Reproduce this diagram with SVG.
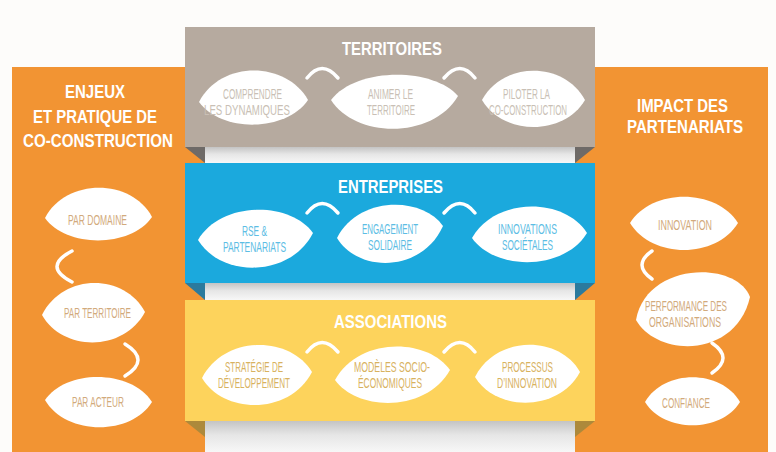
<svg xmlns="http://www.w3.org/2000/svg" width="776" height="452" viewBox="0 0 776 452">
<defs>
<linearGradient id="sh" x1="0" y1="0" x2="0" y2="1">
<stop offset="0" stop-color="#c4c4c4"/>
<stop offset="0.45" stop-color="#e6e6e6"/>
<stop offset="1" stop-color="#f7f7f7"/>
</linearGradient>
<style>
.title{font-family:"Liberation Sans",Arial,sans-serif;font-weight:bold;fill:#ffffff;text-anchor:middle}
.t1{font-size:18px}
.t2{font-size:19px}
.lt{font-family:"Liberation Sans",Arial,sans-serif;font-size:15.5px;text-anchor:middle}
.leaf{fill:#ffffff}
.gr{fill:#c9bfb5}
.bl{fill:#5cbde4}
.ye{fill:#d8b25f}
.or{fill:#d2aa7c}
.arc{fill:none;stroke:#ffffff;stroke-width:3.5;stroke-linecap:round}
</style>
</defs>
<rect x="0" y="0" width="776" height="452" fill="#fdfcfa"/>

<!-- side panels -->
<g id="panel-left">
<rect x="12" y="67" width="193" height="385" fill="#f29433"/>
<text class="title t2" x="95" y="98" textLength="60" lengthAdjust="spacingAndGlyphs">ENJEUX</text>
<text class="title t2" x="95" y="123" textLength="124" lengthAdjust="spacingAndGlyphs">ET PRATIQUE DE</text>
<text class="title t2" x="98" y="147" textLength="150" lengthAdjust="spacingAndGlyphs">CO-CONSTRUCTION</text>
</g>
<g id="panel-right">
<rect x="575" y="67" width="193" height="385" fill="#f29433"/>
<text class="title t2" x="682.5" y="112" textLength="91" lengthAdjust="spacingAndGlyphs">IMPACT DES</text>
<text class="title t2" x="685" y="133" textLength="116" lengthAdjust="spacingAndGlyphs">PARTENARIATS</text>
</g>

<!-- shadows between bands -->
<rect x="205" y="147" width="370" height="16" fill="url(#sh)"/>
<rect x="205" y="283" width="370" height="17" fill="url(#sh)"/>
<rect x="205" y="421" width="370" height="31" fill="url(#sh)"/>

<!-- folds -->
<polygon points="185,147 205,147 205,163" fill="#6e6a67"/>
<polygon points="575,147 595,147 575,163" fill="#6e6a67"/>
<polygon points="185,283 205,283 205,300" fill="#2b7a9d"/>
<polygon points="575,283 595,283 575,300" fill="#2b7a9d"/>
<polygon points="185,421 205,421 205,437" fill="#ad893b"/>
<polygon points="575,421 595,421 575,437" fill="#ad893b"/>

<!-- bands -->
<g id="band-territoires">
<rect x="185" y="27" width="410" height="120" fill="#b6aa9f"/>
<text class="title t1" x="392" y="55" textLength="100" lengthAdjust="spacingAndGlyphs">TERRITOIRES</text>
</g>
<g id="band-entreprises">
<rect x="185" y="163" width="410" height="120" fill="#1ba9dd"/>
<text class="title t1" x="390.5" y="193" textLength="105" lengthAdjust="spacingAndGlyphs">ENTREPRISES</text>
</g>
<g id="band-associations">
<rect x="185" y="300" width="410" height="121" fill="#fdd35c"/>
<text class="title t1" x="390.5" y="328" textLength="113" lengthAdjust="spacingAndGlyphs">ASSOCIATIONS</text>
</g>

<!-- Territoires leaves -->
<g id="comprendre">
<path class="leaf" d="M199,102 C221,60 286,61 308,100 C286,132 222,133 199,102 Z"/>
<text class="lt gr" x="252.5" y="99" textLength="59" lengthAdjust="spacingAndGlyphs">COMPRENDRE</text>
<text class="lt gr" x="247" y="115" textLength="86" lengthAdjust="spacingAndGlyphs">LES DYNAMIQUES</text>
</g>
<g id="animer">
<path class="leaf" d="M331,100 C356,67 433,67 458,96 C433,139 356,139 331,100 Z"/>
<text class="lt gr" x="390.5" y="99" textLength="45" lengthAdjust="spacingAndGlyphs">ANIMER LE</text>
<text class="lt gr" x="391" y="115" textLength="48" lengthAdjust="spacingAndGlyphs">TERRITOIRE</text>
</g>
<g id="piloter">
<path class="leaf" d="M482,100 C503,61 564,61 585,100 C564,136 503,136 482,100 Z"/>
<text class="lt gr" x="526.5" y="99" textLength="47" lengthAdjust="spacingAndGlyphs">PILOTER LA</text>
<text class="lt gr" x="528" y="115" textLength="78" lengthAdjust="spacingAndGlyphs">CO-CONSTRUCTION</text>
</g>

<!-- Entreprises leaves -->
<g id="rse">
<path class="leaf" d="M198,240 C221,201 290,201 313,233 C290,278 221,278 198,240 Z"/>
<text class="lt bl" x="254.5" y="236" textLength="25" lengthAdjust="spacingAndGlyphs">RSE &amp;</text>
<text class="lt bl" x="254.5" y="252" textLength="63" lengthAdjust="spacingAndGlyphs">PARTENARIATS</text>
</g>
<g id="engagement">
<path class="leaf" d="M337,238 C358,196 422,196 443,226 C422,273 358,273 337,238 Z"/>
<text class="lt bl" x="390" y="234" textLength="56" lengthAdjust="spacingAndGlyphs">ENGAGEMENT</text>
<text class="lt bl" x="390" y="250" textLength="44" lengthAdjust="spacingAndGlyphs">SOLIDAIRE</text>
</g>
<g id="innovations">
<path class="leaf" d="M472,238 C495,197 564,197 587,233 C564,271 495,271 472,238 Z"/>
<text class="lt bl" x="527.5" y="234" textLength="59" lengthAdjust="spacingAndGlyphs">INNOVATIONS</text>
<text class="lt bl" x="527.5" y="250" textLength="51" lengthAdjust="spacingAndGlyphs">SOCIÉTALES</text>
</g>

<!-- Associations leaves -->
<g id="strategie">
<path class="leaf" d="M202,378 C224,335 290,335 312,372 C290,415 224,415 202,378 Z"/>
<text class="lt ye" x="254" y="372" textLength="58" lengthAdjust="spacingAndGlyphs">STRATÉGIE DE</text>
<text class="lt ye" x="254" y="388" textLength="72" lengthAdjust="spacingAndGlyphs">DÉVELOPPEMENT</text>
</g>
<g id="modeles">
<path class="leaf" d="M335,380 C358,337 427,337 450,370 C427,412 358,412 335,380 Z"/>
<text class="lt ye" x="392" y="372" textLength="76" lengthAdjust="spacingAndGlyphs">MODÈLES SOCIO-</text>
<text class="lt ye" x="390" y="388" textLength="64" lengthAdjust="spacingAndGlyphs">ÉCONOMIQUES</text>
</g>
<g id="processus">
<path class="leaf" d="M475,377 C496,335 559,335 580,372 C559,412 496,412 475,377 Z"/>
<text class="lt ye" x="527.5" y="372" textLength="51" lengthAdjust="spacingAndGlyphs">PROCESSUS</text>
<text class="lt ye" x="527" y="388" textLength="60" lengthAdjust="spacingAndGlyphs">D’INNOVATION</text>
</g>

<!-- Left panel leaves -->
<g id="par-domaine">
<path class="leaf" d="M45,218 C66,178 131,178 152,217 C131,248 66,248 45,218 Z"/>
<text class="lt or" x="97.5" y="225" textLength="59" lengthAdjust="spacingAndGlyphs">PAR DOMAINE</text>
</g>
<g id="par-territoire">
<path class="leaf" d="M42,315 C63,273 124,273 145,312 C124,352 63,352 42,315 Z"/>
<text class="lt or" x="97.5" y="318" textLength="67" lengthAdjust="spacingAndGlyphs">PAR TERRITOIRE</text>
</g>
<g id="par-acteur">
<path class="leaf" d="M45,400 C66,369 131,369 152,402 C131,436 66,436 45,400 Z"/>
<text class="lt or" x="98" y="407" textLength="52" lengthAdjust="spacingAndGlyphs">PAR ACTEUR</text>
</g>

<!-- Right panel leaves -->
<g id="innovation">
<path class="leaf" d="M630,223 C652,188 716,188 738,223 C716,259 652,259 630,223 Z"/>
<text class="lt or" x="685" y="230" textLength="54" lengthAdjust="spacingAndGlyphs">INNOVATION</text>
</g>
<g id="performance">
<path class="leaf" d="M636,320 C646,262 736,260 750,297 C736,358 658,358 636,320 Z"/>
<text class="lt or" x="686" y="311" textLength="82" lengthAdjust="spacingAndGlyphs">PERFORMANCE DES</text>
<text class="lt or" x="685" y="327" textLength="72" lengthAdjust="spacingAndGlyphs">ORGANISATIONS</text>
</g>
<g id="confiance">
<path class="leaf" d="M645,402 C664,369 721,369 740,402 C721,433 664,433 645,402 Z"/>
<text class="lt or" x="686" y="408" textLength="48" lengthAdjust="spacingAndGlyphs">CONFIANCE</text>
</g>

<!-- connectors -->
<g id="connectors">
<path class="arc" d="M307,78 Q322,59 338,78"/>
<path class="arc" d="M444,78 Q460,59 475,78"/>
<path class="arc" d="M307,213 Q322,194 338,213"/>
<path class="arc" d="M444,213 Q460,194 475,213"/>
<path class="arc" d="M307,352 Q322,333 338,352"/>
<path class="arc" d="M444,352 Q460,333 475,352"/>
<path class="arc" d="M72,251 Q42,266.5 72,282"/>
<path class="arc" d="M125,344 Q151,360 125,376"/>
<path class="arc" d="M652,251 Q632,265 652,279"/>
<path class="arc" d="M712,343 Q734,358 712,373"/>
</g>
</svg>
